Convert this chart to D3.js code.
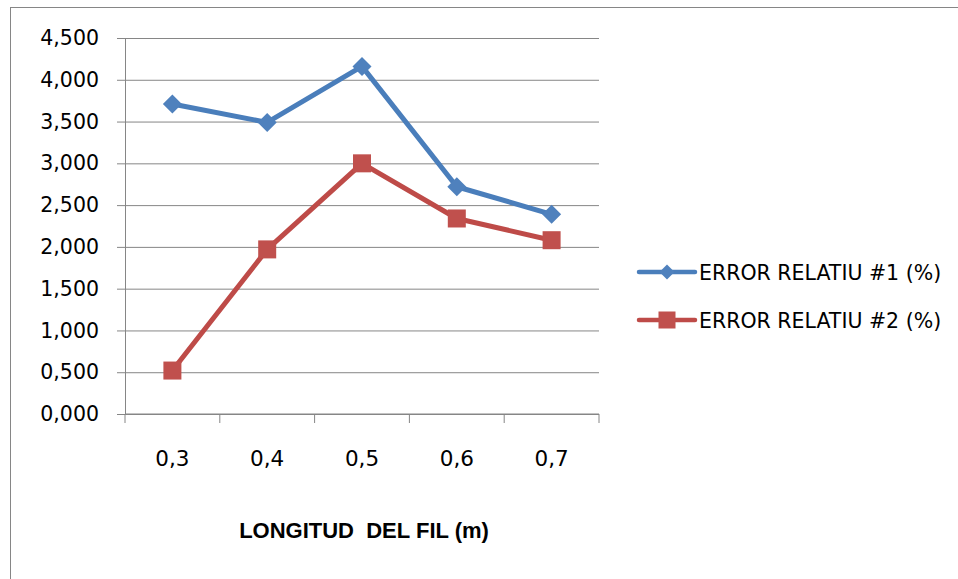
<!DOCTYPE html>
<html>
<head>
<meta charset="utf-8">
<script src="https://cdn.jsdelivr.net/npm/d3@7"></script>
<style>
  body { margin: 0; background: #fff; }
  svg { display: block; }
</style>
</head>
<body>
<div id="chart"></div>
<script>
// data
var longituds = ["0,3", "0,4", "0,5", "0,6", "0,7"];
var error1 = [3.71, 3.49, 4.16, 2.72, 2.39];
var error2 = [0.52, 1.97, 3.00, 2.34, 2.08];
var yTicks = [0, 0.5, 1, 1.5, 2, 2.5, 3, 3.5, 4, 4.5];
var seriesNames = ["ERROR RELATIU #1 (%)", "ERROR RELATIU #2 (%)"];

var W = 958, H = 579;
var margin = {top: 38, right: 359, bottom: 165, left: 125},
    width = W - margin.left - margin.right,
    height = H - margin.top - margin.bottom;

var grey = "#868686";
var svgRoot = d3.select("#chart").append("svg")
  .attr("width", W).attr("height", H);

// chart border (runs off the right and bottom of the picture)
svgRoot.append("rect")
  .attr("x", 10.5).attr("y", 7.5)
  .attr("width", 1200).attr("height", 800)
  .attr("fill", "none").attr("stroke", grey).attr("stroke-width", 1);

var svg = svgRoot.append("g")
  .attr("transform", `translate(${margin.left},${margin.top})`);

var x = d3.scaleBand().domain(longituds).range([0, width]).padding(0);
var y = d3.scaleLinear().domain([0, 4.5]).range([height, 0]);

// gridlines + y ticks
var yAxis = svg.append("g")
  .call(d3.axisLeft(y).tickValues(yTicks).tickSize(-width).tickSizeOuter(0)
    .tickFormat(d => d3.format(".3f")(d).replace(".", ",")));
yAxis.select(".domain").attr("stroke", grey);
yAxis.selectAll(".tick line").attr("stroke", grey).attr("x1", -8);
yAxis.selectAll(".tick text")
  .attr("x", -26)
  .attr("fill", "#000")
  .style("font-family", "DejaVu Sans")
  .style("font-size", "20.5px");

// x axis
var xAxis = svg.append("g")
  .attr("transform", `translate(0,${height})`)
  .call(d3.axisBottom(x).tickSize(0).tickPadding(0));
xAxis.select(".domain").remove();
xAxis.selectAll(".tick text")
  .attr("y", 52)
  .attr("dy", 0)
  .attr("fill", "#000")
  .style("font-family", "DejaVu Sans")
  .style("font-size", "21.5px");
xAxis.append("line")
  .attr("x1", 0).attr("x2", width)
  .attr("stroke", grey);
var bounds = longituds.map(d => x(d)).concat([width]);
xAxis.selectAll(".xtick").data(bounds).join("line")
  .attr("class", "xtick")
  .attr("x1", d => d).attr("x2", d => d)
  .attr("y1", 0).attr("y2", 9)
  .attr("stroke", grey);

var colors = ["#4A7EBB", "#BE4B48"];
var fills = ["#4F81BD", "#C0504D"];
var allSeries = [error1, error2];

var line = d3.line()
  .x((d, i) => x(longituds[i]) + x.bandwidth() / 2)
  .y(d => y(d));

function marker(sel, k, s) {
  if (k === 0) {
    sel.append("path")
      .attr("d", `M0,${-s}L${s},0L0,${s}L${-s},0Z`)
      .attr("fill", fills[k]);
  } else {
    sel.append("rect")
      .attr("x", -s).attr("y", -s)
      .attr("width", 2 * s).attr("height", 2 * s)
      .attr("fill", fills[k]);
  }
}

allSeries.forEach(function(vals, k) {
  svg.append("path")
    .datum(vals)
    .attr("d", line)
    .attr("fill", "none")
    .attr("stroke", colors[k])
    .attr("stroke-width", 5)
    .attr("stroke-linejoin", "round");
  svg.selectAll(".m" + k).data(vals).join("g")
    .attr("class", "m" + k)
    .attr("transform", (d, i) => `translate(${x(longituds[i]) + x.bandwidth() / 2},${y(d)})`)
    .each(function() { marker(d3.select(this), k, k === 0 ? 9.5 : 9); });
});

// legend
var legend = svgRoot.append("g");
seriesNames.forEach(function(name, k) {
  var ly = 272 + k * 48;
  legend.append("line")
    .attr("x1", 639).attr("x2", 695)
    .attr("y1", ly).attr("y2", ly)
    .attr("stroke", colors[k]).attr("stroke-width", 4.5)
    .attr("stroke-linecap", "round");
  var g = legend.append("g").attr("transform", `translate(667,${ly})`);
  marker(g, k, k === 0 ? 7.5 : 8.5);
  legend.append("text")
    .attr("x", 699).attr("y", ly + 7.5)
    .style("font-family", "DejaVu Sans")
    .style("font-size", "20.5px")
    .text(name);
});

// axis title
svgRoot.append("text")
  .attr("x", 364).attr("y", 538)
  .attr("text-anchor", "middle")
  .style("font-family", "Liberation Sans")
  .style("font-weight", "bold")
  .style("font-size", "22px")
  .style("white-space", "pre")
  .text("LONGITUD  DEL FIL (m)");
</script>
</body>
</html>
